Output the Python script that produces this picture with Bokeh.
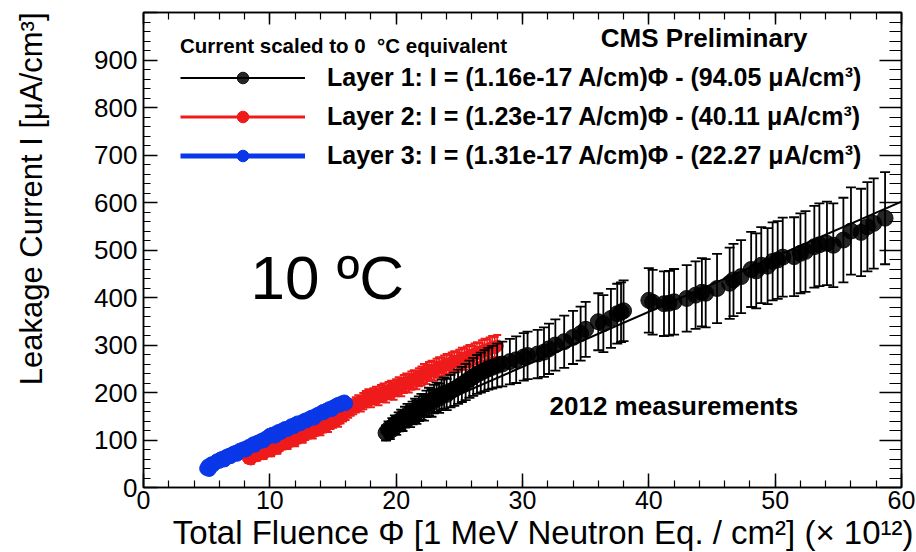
import math
from bokeh.plotting import figure
from bokeh.models import (Range1d, LinearAxis, SingleIntervalTicker, Legend, LegendItem,
                          Label, Title, CustomJSTickFormatter, Grid)
from bokeh.embed import file_html
from bokeh.resources import INLINE

# ---------------- data ----------------
# Layer 1 (black), fluence in 1e12 n_eq/cm^2, current in uA/cm^3
layer1_x = [19.2, 19.4, 19.5, 19.7, 19.9, 20.0, 20.2, 20.4, 20.5, 20.7,
            20.9, 21.1, 21.3, 21.5, 21.6, 21.8, 22.0, 22.2, 22.4, 22.6,
            22.8, 23.0, 23.2, 23.4, 23.6, 23.8, 24.0, 24.3, 24.6, 24.9,
            25.2, 25.5, 25.8, 26.1, 26.4, 26.7, 27.0, 27.3, 27.6, 28.0,
            28.4, 29.0, 29.5, 30.1, 30.4, 31.2, 31.7, 32.1, 32.6, 33.3,
            34.0, 34.6, 35.0, 36.0, 36.4, 37.0, 37.5, 37.8, 38.0, 40.0,
            40.3, 41.2, 41.6, 42.0, 43.0, 43.7, 44.2, 44.5, 45.4, 46.4,
            46.7, 47.3, 48.1, 48.5, 48.9, 49.4, 49.8, 50.2, 50.6, 51.5,
            52.0, 52.4, 53.1, 53.5, 54.1, 54.6, 55.4, 56.0, 56.8, 57.3,
            57.8, 58.7]
layer1_y = [115, 122, 119, 128, 133, 130, 138, 143, 140, 148,
            153, 150, 157, 162, 159, 166, 170, 168, 176, 181,
            178, 186, 190, 188, 195, 199, 196, 203, 207, 212,
            217, 222, 228, 233, 238, 242, 246, 250, 253, 257,
            260, 265, 269, 275, 278, 281, 285, 292, 300, 307,
            316, 324, 333, 349, 345, 356, 366, 369, 372, 394,
            390, 387, 388, 391, 398, 405, 411, 409, 419, 430,
            437, 444, 459, 456, 468, 466, 476, 479, 485, 486,
            493, 497, 507, 511, 514, 510, 521, 540, 537, 549,
            556, 567]
layer1_err = [16, 17, 17, 18, 19, 19, 20, 21, 21, 22,
              23, 23, 24, 25, 25, 26, 27, 27, 28, 29,
              29, 30, 31, 31, 32, 33, 33, 34, 35, 36,
              37, 38, 39, 40, 41, 42, 43, 44, 45, 46,
              47, 48, 49, 50, 50, 51, 52, 53, 54, 55,
              56, 57, 58, 60, 60, 62, 63, 63, 64, 68,
              68, 68, 68, 69, 70, 71, 72, 72, 73, 75,
              76, 77, 79, 79, 80, 80, 82, 82, 83, 83,
              84, 85, 86, 87, 88, 88, 89, 92, 92, 94,
              95, 97]

# Layer 2 (red)
layer2_x = [8.3, 8.5, 8.7, 8.9, 9.0, 9.2, 9.4, 9.5, 9.7, 9.9,
            10.1, 10.3, 10.5, 10.6, 10.8, 11.0, 11.2, 11.4, 11.6, 11.8,
            12.0, 12.2, 12.4, 12.6, 12.8, 13.0, 13.2, 13.4, 13.6, 13.8,
            14.0, 14.2, 14.4, 14.6, 14.8, 15.0, 15.2, 15.4, 15.6, 15.8,
            16.0, 16.2, 16.4, 16.6, 16.8, 17.0, 17.2, 17.4, 17.6, 17.8,
            18.0, 18.2, 18.4, 18.6, 18.8, 19.0, 19.2, 19.4, 19.6, 19.8,
            20.0, 20.2, 20.4, 20.6, 20.8, 21.0, 21.2, 21.4, 21.6, 21.8,
            22.0, 22.2, 22.4, 22.6, 22.8, 23.0, 23.2, 23.4, 23.6, 23.8,
            24.0, 24.2, 24.4, 24.6, 24.8, 25.0, 25.2, 25.4, 25.6, 25.8,
            26.0, 26.2, 26.4, 26.6, 26.8, 27.0, 27.2, 27.4, 27.6, 27.8,
            28.0]
layer2_y = [62, 60, 66, 70, 67, 72, 75, 71, 78, 80,
            77, 84, 86, 83, 90, 92, 95, 93, 99, 102,
            100, 106, 109, 107, 113, 116, 119, 117, 123, 126,
            124, 130, 134, 132, 138, 141, 145, 143, 150, 154,
            158, 163, 167, 170, 174, 178, 176, 182, 186, 190,
            186, 192, 195, 190, 198, 201, 197, 204, 207, 203,
            210, 214, 211, 218, 221, 219, 225, 228, 226, 232,
            235, 240, 238, 244, 247, 245, 251, 254, 252, 257,
            260, 258, 263, 266, 264, 269, 272, 270, 275, 278,
            276, 281, 284, 282, 287, 290, 288, 293, 296, 294,
            298]
layer2_err = [10, 10, 10, 10, 10, 11, 11, 11, 11, 11,
              11, 11, 12, 12, 12, 12, 12, 12, 12, 13,
              13, 13, 13, 13, 13, 13, 14, 14, 14, 14,
              14, 14, 14, 15, 15, 15, 15, 15, 15, 15,
              16, 16, 16, 16, 16, 16, 16, 17, 17, 17,
              17, 17, 17, 17, 18, 18, 18, 18, 18, 18,
              18, 18, 19, 19, 19, 19, 19, 19, 19, 19,
              20, 20, 20, 20, 20, 20, 20, 20, 21, 21,
              21, 21, 21, 21, 21, 21, 22, 22, 22, 22,
              22, 22, 22, 22, 23, 23, 23, 23, 23, 23,
              23]

# Layer 3 (blue)
layer3_x = [5.0, 5.1, 5.2, 5.3, 5.4, 5.5, 5.7, 5.8, 6.0, 6.1,
            6.3, 6.4, 6.6, 6.8, 6.9, 7.1, 7.3, 7.4, 7.6, 7.8,
            8.0, 8.1, 8.3, 8.5, 8.7, 8.8, 9.0, 9.2, 9.4, 9.5,
            9.7, 9.9, 10.0, 10.2, 10.4, 10.5, 10.7, 10.9, 11.0, 11.2,
            11.4, 11.5, 11.7, 11.9, 12.0, 12.2, 12.4, 12.6, 12.8, 12.9,
            13.1, 13.3, 13.5, 13.6, 13.8, 14.0, 14.2, 14.3, 14.5, 14.7,
            14.9, 15.0, 15.2, 15.4, 15.5, 15.7, 15.9, 16.0]
layer3_y = [40, 45, 38, 48, 50, 47, 53, 56, 55, 60,
            62, 58, 66, 68, 65, 72, 74, 70, 78, 80,
            82, 79, 86, 88, 92, 89, 95, 97, 100, 98,
            104, 107, 110, 112, 108, 115, 118, 116, 121, 124,
            122, 126, 130, 128, 133, 136, 134, 139, 142, 140,
            145, 148, 146, 151, 154, 156, 160, 158, 163, 166,
            164, 169, 172, 175, 173, 178, 180, 177]

# linear fits quoted in the legend: I = slope*Phi - offset (Phi in 1e12)
fit_slope = [11.6, 12.3, 13.1]
fit_offset = [94.05, 40.11, 22.27]

legend_labels = ["Layer 1: I = (1.16e-17 A/cm)\u03a6 - (94.05 \u03bcA/cm\u00b3)",
                 "Layer 2: I = (1.23e-17 A/cm)\u03a6 - (40.11 \u03bcA/cm\u00b3)",
                 "Layer 3: I = (1.31e-17 A/cm)\u03a6 - (22.27 \u03bcA/cm\u00b3)"]

x_ticks_interval = 10
y_ticks_interval = 100

FONT = "Liberation Sans"
BLACK = "#000000"
RED = "#ef1b1b"
BLUE = "#0a38e8"

p = figure(width=916, height=552, x_range=Range1d(0, 60), y_range=Range1d(0, 1000),
           output_backend="svg", toolbar_location=None,
           x_axis_location=None, y_axis_location=None,
           min_border_left=143, min_border_right=15, min_border_top=12, min_border_bottom=65)
p.background_fill_color = "white"
p.border_fill_color = "white"
p.outline_line_color = "black"
p.outline_line_width = 1.5
for r in list(p.center):
    if isinstance(r, Grid):
        r.visible = False

blank = CustomJSTickFormatter(code="return ''")


def make_axis(interval, major_in, minor_in, labels, size="25px"):
    ax = LinearAxis(ticker=SingleIntervalTicker(interval=interval, num_minor_ticks=5))
    ax.major_tick_in = major_in
    ax.major_tick_out = 0
    ax.minor_tick_in = minor_in
    ax.minor_tick_out = 0
    ax.axis_line_color = "black"
    ax.axis_line_width = 1.5
    ax.major_tick_line_width = 1.5
    ax.minor_tick_line_width = 1.2
    if labels:
        ax.major_label_text_font = FONT
        ax.major_label_text_font_size = size
        ax.major_label_text_color = "black"
    else:
        ax.formatter = blank
        ax.major_label_standoff = 0
        ax.major_label_text_font_size = "1px"
    return ax


left = make_axis(y_ticks_interval, 14, 7, True, "26px")
left.major_label_standoff = 6
left.major_label_overrides = {1000: ""}
right = make_axis(y_ticks_interval, 22, 12, False)
bottom = make_axis(x_ticks_interval, 14, 7, True, "25px")
bottom.major_label_standoff = 3
top = make_axis(x_ticks_interval, 12, 7, False)
p.add_layout(left, "left")
p.add_layout(right, "right")
p.add_layout(bottom, "below")
p.add_layout(top, "above")

# axis titles, ROOT style: aligned to the far end of each axis
p.add_layout(Title(text="Total Fluence \u03a6 [1 MeV Neutron Eq. / cm\u00b2] (\u00d7 10\u00b9\u00b2)",
                   align="right", offset=-12, standoff=0, text_font=FONT, text_font_size="33px",
                   text_font_style="normal", text_color="black"), "below")
# a thin empty spacer between the y tick labels and the y title
p.add_layout(Title(text=" ", text_font_size="1px", standoff=40), "left")
p.add_layout(Title(text="Leakage Current I [\u03bcA/cm\u00b3]", vertical_align="bottom",
                   align="right", offset=0, standoff=0, text_font=FONT, text_font_size="31px",
                   text_font_style="normal", text_color="black"), "left")

# ---------------- fit lines ----------------
fits = []
for i, xs in enumerate([layer1_x, layer2_x, layer3_x]):
    x0 = min(xs)
    x1 = 60 if i == 0 else max(xs)
    fits.append(dict(x=[x0, x1],
                     y=[fit_slope[i] * x0 - fit_offset[i], fit_slope[i] * x1 - fit_offset[i]]))

# layer 2 (red): fit line under, error bars, markers
red_line = p.line(fits[1]["x"], fits[1]["y"], line_color=RED, line_width=3)
r_lo = [y - e for y, e in zip(layer2_y, layer2_err)]
r_hi = [y + e for y, e in zip(layer2_y, layer2_err)]
p.segment(x0=layer2_x, y0=r_lo, x1=layer2_x, y1=r_hi, line_color=RED, line_width=1.5)
p.scatter(layer2_x + layer2_x, r_lo + r_hi, marker="dash", size=8, line_color=RED, line_width=2)
red_pts = p.scatter(layer2_x, layer2_y, marker="circle", size=12, fill_color=RED, line_color=RED)

# layer 1 (black)
b_lo = [y - e for y, e in zip(layer1_y, layer1_err)]
b_hi = [y + e for y, e in zip(layer1_y, layer1_err)]
p.segment(x0=layer1_x, y0=b_lo, x1=layer1_x, y1=b_hi, line_color=BLACK, line_width=1.8)
p.scatter(layer1_x + layer1_x, b_lo + b_hi, marker="dash", size=10, line_color=BLACK, line_width=1.8)
black_pts = p.scatter(layer1_x, layer1_y, marker="circle", size=16, fill_color=BLACK,
                      line_color=BLACK, fill_alpha=0.85, line_alpha=0.85)
black_line = p.line(fits[0]["x"], fits[0]["y"], line_color=BLACK, line_width=2)

# layer 3 (blue)
blue_line = p.line(fits[2]["x"], fits[2]["y"], line_color=BLUE, line_width=5)
blue_pts = p.scatter(layer3_x, layer3_y, marker="circle", size=14, fill_color=BLUE, line_color=BLUE)

# ---------------- legend ----------------
legend = Legend(items=[LegendItem(label=legend_labels[0], renderers=[black_line, black_pts]),
                       LegendItem(label=legend_labels[1], renderers=[red_line, red_pts]),
                       LegendItem(label=legend_labels[2], renderers=[blue_line, blue_pts])],
                location=(37, 317), title="Current scaled to 0  \u00b0C equivalent",
                orientation="vertical")
legend.title_text_font = FONT
legend.title_text_font_size = "20.5px"
legend.title_text_font_style = "bold"
legend.title_text_color = "black"
legend.title_standoff = 5
legend.label_text_font = FONT
legend.label_text_font_size = "25px"
legend.label_text_font_style = "bold"
legend.label_text_color = "black"
legend.glyph_width = 125
legend.glyph_height = 29
legend.label_height = 29
legend.label_standoff = 22
legend.spacing = 10
legend.padding = 0
legend.margin = 0
legend.border_line_color = None
legend.background_fill_alpha = 0
p.add_layout(legend, "center")

# ---------------- texts ----------------
p.add_layout(Label(x=36.2, y=914, text="CMS Preliminary", text_font=FONT,
                   text_font_size="26px", text_font_style="bold", text_color="black"))
p.add_layout(Label(x=8.47, y=369, text="10 \u00baC", text_font=FONT,
                   text_font_size="62px", text_color="black"))
p.add_layout(Label(x=32.14, y=141, text="2012 measurements", text_font=FONT,
                   text_font_size="26px", text_font_style="bold", text_color="black"))

open("out.html", "w").write(file_html(p, INLINE))
